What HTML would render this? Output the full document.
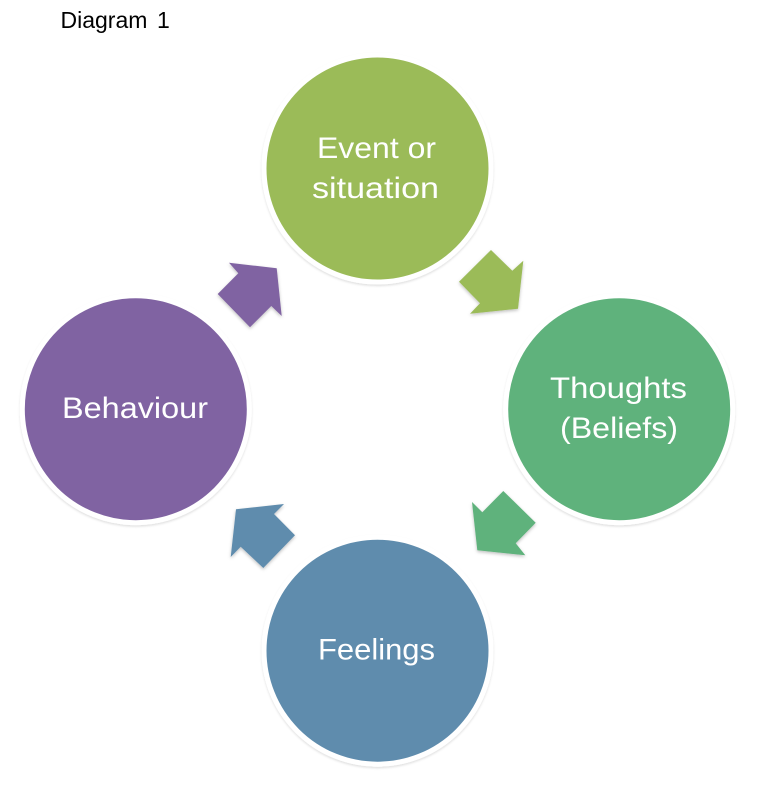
<!DOCTYPE html>
<html>
<head>
<meta charset="utf-8">
<style>
html,body{margin:0;padding:0;background:#fff;width:778px;height:804px;overflow:hidden}
svg{display:block}
.t{font-family:"Liberation Sans",sans-serif;font-size:30px;fill:#fff;text-anchor:middle}
</style>
</head>
<body>
<svg width="778" height="804" viewBox="0 0 778 804" xmlns="http://www.w3.org/2000/svg">
<defs>
<filter id="s" x="-20%" y="-20%" width="140%" height="140%"><feDropShadow dx="0" dy="1.5" stdDeviation="1.5" flood-color="#000" flood-opacity="0.25"/></filter>
<filter id="c" x="-10%" y="-10%" width="120%" height="120%"><feDropShadow dx="0" dy="1.5" stdDeviation="1" flood-color="#000" flood-opacity="0.12"/></filter>
</defs>
<text font-family="Liberation Sans, sans-serif" font-size="23" fill="#000" y="28"><tspan x="60.5">Diagram</tspan><tspan x="157">1</tspan></text>

<g stroke="#fff" stroke-width="5">
<circle cx="377.5" cy="168.5" r="113.5" fill="#9bbb59" filter="url(#c)"/>
<circle cx="619.2" cy="409.2" r="113.5" fill="#5fb27c" filter="url(#c)"/>
<circle cx="377.5" cy="650.7" r="113.5" fill="#5f8cad" filter="url(#c)"/>
<circle cx="135.8" cy="409.2" r="113.5" fill="#8064a2" filter="url(#c)"/>
</g>

<polygon points="491,250 512.3,270.7 523.3,260.7 518,308.7 470,313.7 480,303.3 459,281.7" fill="#9bbb59" filter="url(#s)"/>
<polygon points="503.3,491 535.7,522.7 515.7,543.3 525.3,555.3 477.3,550.3 472,502 482.3,512.3" fill="#5fb27c" filter="url(#s)"/>
<polygon points="284,504 274,514 295,535.3 263.3,568 240.7,546.7 230.7,557 236,509.3" fill="#5f8cad" filter="url(#s)"/>
<polygon points="229,262.7 276.7,268.3 281.7,316 271.3,306 250,327.3 217.7,294 238.3,273.3" fill="#8064a2" filter="url(#s)"/>

<text class="t" x="376.5" y="158" textLength="119" lengthAdjust="spacingAndGlyphs">Event or</text>
<text class="t" x="375.5" y="198" textLength="127" lengthAdjust="spacingAndGlyphs">situation</text>
<text class="t" x="618.5" y="398" textLength="137" lengthAdjust="spacingAndGlyphs">Thoughts</text>
<text class="t" x="619" y="438" textLength="118" lengthAdjust="spacingAndGlyphs">(Beliefs)</text>
<text class="t" x="376.5" y="659.5" textLength="117" lengthAdjust="spacingAndGlyphs">Feelings</text>
<text class="t" x="135" y="418" textLength="146" lengthAdjust="spacingAndGlyphs">Behaviour</text>
</svg>
</body>
</html>
